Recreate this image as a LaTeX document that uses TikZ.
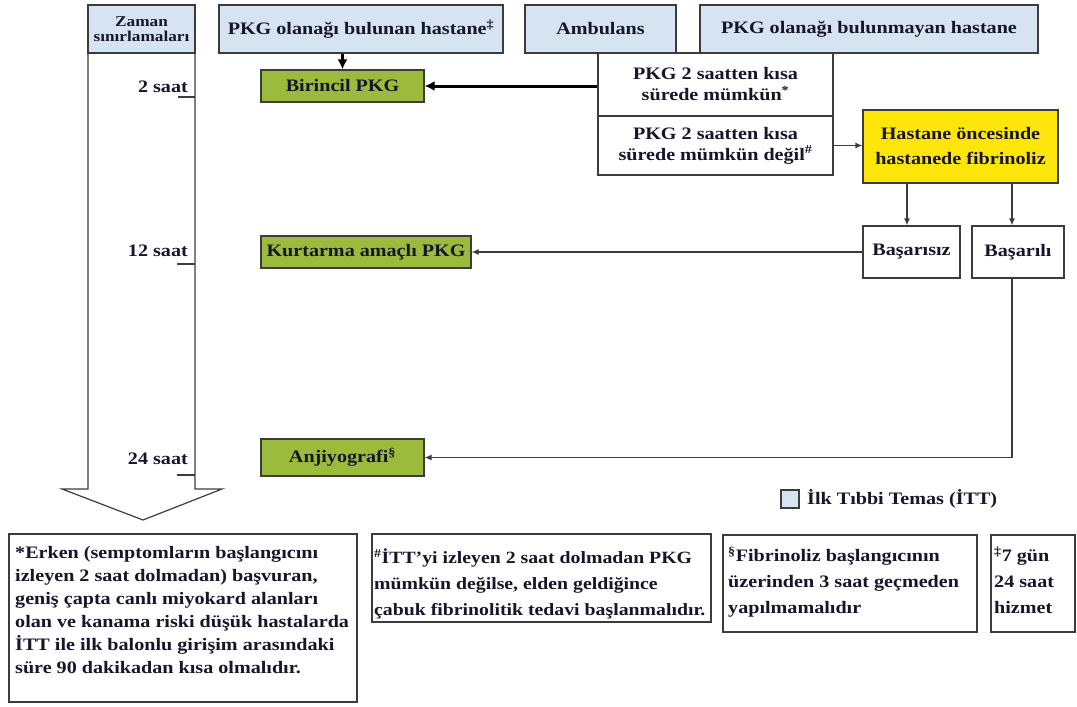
\documentclass[tikz,border=0pt]{standalone}
\usepackage{fontspec}
\setmainfont[FakeStretch=1.15]{Liberation Serif}
\usetikzlibrary{arrows.meta}
\definecolor{ittblue}{HTML}{D6E4F1}
\definecolor{pkggreen}{HTML}{9CBB3D}
\definecolor{fibyellow}{HTML}{FFE60A}
\definecolor{linegray}{HTML}{3C3C3C}
\definecolor{inkcol}{HTML}{16162A}
\newcommand{\mainsize}{\fontsize{17.5}{21}\selectfont\bfseries}
\newcommand{\smallsize}{\fontsize{15}{15}\selectfont\bfseries}
\begin{document}
\begin{tikzpicture}[x=1pt,y=-1pt,
  every node/.style={text=inkcol},
  boxline/.style={draw=linegray, line width=1.2pt},
  basebox/.style={boxline, rectangle, inner sep=0pt, align=center, font=\mainsize},
  ittbox/.style={basebox, fill=ittblue},
  greenbox/.style={basebox, fill=pkggreen},
  whitebox/.style={basebox, fill=white},
  yellowbox/.style={basebox, fill=fibyellow},
  notebox/.style={boxline, rectangle, inner sep=0pt, fill=white},
  notetext/.style={anchor=north west, inner sep=0pt, align=left},
  timelabel/.style={anchor=east, inner sep=0pt, font=\mainsize},
  arr/.style={draw=linegray, line width=1.2pt, -{Latex[length=7pt,width=6pt]}},
  thickarr/.style={draw=black, line width=3pt, -{Latex[length=10pt,width=10pt]}},
  tick/.style={draw=linegray, line width=1.2pt}
]
\useasboundingbox (0,0) rectangle (1077,707);

% time arrow
\draw[boxline, fill=white] (88,53) -- (88,489) -- (62,489) -- (143,520) -- (222,489) -- (195,489) -- (195,53);
\node[ittbox, minimum width=107pt, minimum height=48pt, font=\smallsize] (zaman) at (141.5,29) {Zaman\\sınırlamaları};
\node[timelabel] (t2) at (188,87) {2 saat};
\node[timelabel] (t12) at (188,251) {12 saat};
\node[timelabel] (t24) at (188,459) {24 saat};
\draw[tick] (178,97) -- (195,97);
\draw[tick] (177,264) -- (195,264);
\draw[tick] (177,475) -- (195,475);

% first contact boxes
\node[ittbox, minimum width=284pt, minimum height=48pt] (hosp) at (361,29) {PKG olanağı bulunan hastane\textsuperscript{‡}};
\node[ittbox, minimum width=151pt, minimum height=48pt] (amb) at (600.5,29) {Ambulans};
\node[ittbox, minimum width=338pt, minimum height=48pt] (nohosp) at (869,29) {PKG olanağı bulunmayan hastane};

% decision boxes
\node[whitebox, minimum width=235pt, minimum height=63pt] (poss) at (715.5,84.5) {PKG 2 saatten kısa\\sürede mümkün\textsuperscript{*}};
\node[whitebox, minimum width=235pt, minimum height=59pt] (notposs) at (715.5,145.5) {PKG 2 saatten kısa\\sürede mümkün değil\textsuperscript{\#}};
\node[yellowbox, minimum width=195pt, minimum height=73pt, font=\fontsize{17.5}{25}\selectfont\bfseries] (fib) at (960.5,146.5) {Hastane öncesinde\\hastanede fibrinoliz};
\node[whitebox, minimum width=97pt, minimum height=52pt] (fail) at (911.5,252) {Başarısız};
\node[whitebox, minimum width=92pt, minimum height=52pt] (succ) at (1018,252) {Başarılı};

% treatment boxes
\node[greenbox, minimum width=163pt, minimum height=32pt] (prim) at (342.5,86) {Birincil PKG};
\node[greenbox, minimum width=210pt, minimum height=32pt] (rescue) at (366,252) {Kurtarma amaçlı PKG};
\node[greenbox, minimum width=163pt, minimum height=37pt] (angio) at (342.5,457.5) {Anjiyografi\textsuperscript{§}};

% connectors
\draw[thickarr] (hosp.south -| prim.north) -- (prim.north);
\draw[thickarr] (poss.west |- prim.east) -- (prim.east);
\draw[arr] (notposs.east) -- (fib.west |- notposs.east);
\draw[arr] ([xshift=-4.5pt]fail.north |- fib.south) -- ([xshift=-4.5pt]fail.north);
\draw[arr] ([xshift=-6pt]succ.north |- fib.south) -- ([xshift=-6pt]succ.north);
\draw[arr] (fail.west) -- (rescue.east);
\draw[arr] ([xshift=-6pt]succ.south) |- (angio.east);

% legend
\node[ittbox, minimum width=18pt, minimum height=18pt] (legbox) at (790,499) {};
\node[anchor=west, inner sep=0pt, font=\mainsize] (legtext) at (807,499) {İlk Tıbbi Temas (İTT)};

% footnotes
\node[notebox, minimum width=348pt, minimum height=168pt] (n1) at (183,618) {};
\node[notetext, font=\fontsize{17.5}{23}\selectfont\bfseries] (n1t) at (15,546) {*Erken (semptomların başlangıcını\\izleyen 2 saat dolmadan) başvuran,\\geniş çapta canlı miyokard alanları\\olan ve kanama riski düşük hastalarda\\İTT ile ilk balonlu girişim arasındaki\\süre 90 dakikadan kısa olmalıdır.};

\node[notebox, minimum width=339pt, minimum height=88pt] (n2) at (541.5,578) {};
\node[notetext, font=\fontsize{17.2}{26}\selectfont\bfseries] (n2t) at (374,549) {\textsuperscript{\#}İTT’yi izleyen 2 saat dolmadan PKG\\mümkün değilse, elden geldiğince\\çabuk fibrinolitik tedavi başlanmalıdır.};

\node[notebox, minimum width=254pt, minimum height=97pt] (n3) at (850,583.5) {};
\node[notetext, font=\fontsize{17.5}{26}\selectfont\bfseries] (n3t) at (728,547) {\textsuperscript{§}Fibrinoliz başlangıcının\\üzerinden 3 saat geçmeden\\yapılmamalıdır};

\node[notebox, minimum width=84pt, minimum height=97pt] (n4) at (1033,583.5) {};
\node[notetext, font=\fontsize{17.5}{26}\selectfont\bfseries] (n4t) at (994,547) {\textsuperscript{‡}7 gün\\24 saat\\hizmet};
\end{tikzpicture}
\end{document}
